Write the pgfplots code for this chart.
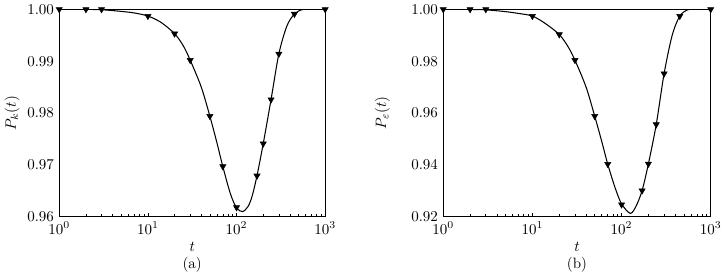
\documentclass[border=0pt]{standalone}
\usepackage{pgfplots}
\pgfplotsset{compat=1.18}
\begin{document}
\begin{tikzpicture}
\useasboundingbox (0,0) rectangle (482pt,186pt);
\begin{axis}[xmode=log, scale only axis, width=177.3pt, height=138.3pt,
  at={(39.5pt,41.5pt)}, anchor=south west,
  xmin=1, xmax=1000, xtick={1,10,100,1000},
  axis line style={line width=0.55pt},
  tick align=inside, xtick pos=bottom, ytick pos=left,
  major tick length=2.7pt, minor tick length=1.7pt,
  tick style={black, line width=0.4pt},
  ytick style={draw=none},
  yticklabel style={/pgf/number format/fixed, /pgf/number format/precision=2, /pgf/number format/fixed zerofill},
  xlabel={$t$},
  xlabel style={at={(axis description cs:0.5,-0.146)}, anchor=center},
  ymin=0.96, ymax=1.0, ytick={0.96,0.97,0.98,0.99,1.0},
  ylabel={$P_k(t)$},
  ylabel style={at={(axis description cs:-0.177,0.5)}, anchor=center},
  extra description/.code={\node at (axis description cs:0.5,-0.233) {(a)};}]
\addplot[black, line width=0.7pt, smooth, tension=0.5, no markers] coordinates {(1,1.0) (2,0.99998) (3,0.99992) (5,0.9996) (7,0.9993) (10,0.9987) (14,0.9975) (20,0.9953) (25,0.9930) (30,0.9902) (40,0.9850) (50,0.9794) (60,0.9743) (70,0.9697) (85,0.9645) (100,0.9617) (117,0.9610) (135,0.9620) (150,0.9640) (170,0.9679) (200,0.9741) (245,0.9826) (300,0.9914) (370,0.9968) (450,0.9991) (550,0.99995) (650,1.0) (1000,1.0)};
\addplot[only marks, mark=triangle*, mark size=2.33pt, mark options={rotate=180, fill=black, draw=black}] coordinates {(1,1.0) (2,1.0) (3,1.0) (10,0.9987) (20,0.9953) (30,0.9902) (50,0.9794) (70,0.9697) (100,0.9618) (170,0.9679) (200,0.9741) (245,0.9826) (300,0.9914) (450,0.9991) (1000,1.0)};
\end{axis}
\begin{axis}[xmode=log, scale only axis, width=178.3pt, height=138.3pt,
  at={(295.5pt,41.5pt)}, anchor=south west,
  xmin=1, xmax=1000, xtick={1,10,100,1000},
  axis line style={line width=0.55pt},
  tick align=inside, xtick pos=bottom, ytick pos=left,
  major tick length=2.7pt, minor tick length=1.7pt,
  tick style={black, line width=0.4pt},
  ytick style={draw=none},
  yticklabel style={/pgf/number format/fixed, /pgf/number format/precision=2, /pgf/number format/fixed zerofill},
  xlabel={$t$},
  xlabel style={at={(axis description cs:0.5,-0.146)}, anchor=center},
  ymin=0.92, ymax=1.0, ytick={0.92,0.94,0.96,0.98,1.0},
  ylabel={$P_\varepsilon(t)$},
  ylabel style={at={(axis description cs:-0.228,0.5)}, anchor=center},
  extra description/.code={\node at (axis description cs:0.5,-0.233) {(b)};}]
\addplot[black, line width=0.7pt, smooth, tension=0.5, no markers] coordinates {(1,1.0) (2,0.99995) (3,0.9998) (5,0.9991) (7,0.9984) (10,0.9974) (14,0.9945) (20,0.9903) (25,0.9857) (30,0.9804) (40,0.9700) (50,0.9588) (60,0.9490) (70,0.9403) (85,0.9310) (100,0.9250) (125,0.9213) (145,0.9240) (170,0.9301) (200,0.9404) (245,0.9556) (300,0.9752) (370,0.9900) (450,0.9974) (550,0.9998) (650,1.0) (1000,1.0)};
\addplot[only marks, mark=triangle*, mark size=2.33pt, mark options={rotate=180, fill=black, draw=black}] coordinates {(1,1.0) (2,1.0) (3,1.0) (10,0.9974) (20,0.9903) (30,0.9804) (50,0.9588) (70,0.9403) (100,0.9247) (170,0.9301) (200,0.9404) (245,0.9556) (300,0.9752) (450,0.9974) (1000,1.0)};
\end{axis}
\end{tikzpicture}
\end{document}
